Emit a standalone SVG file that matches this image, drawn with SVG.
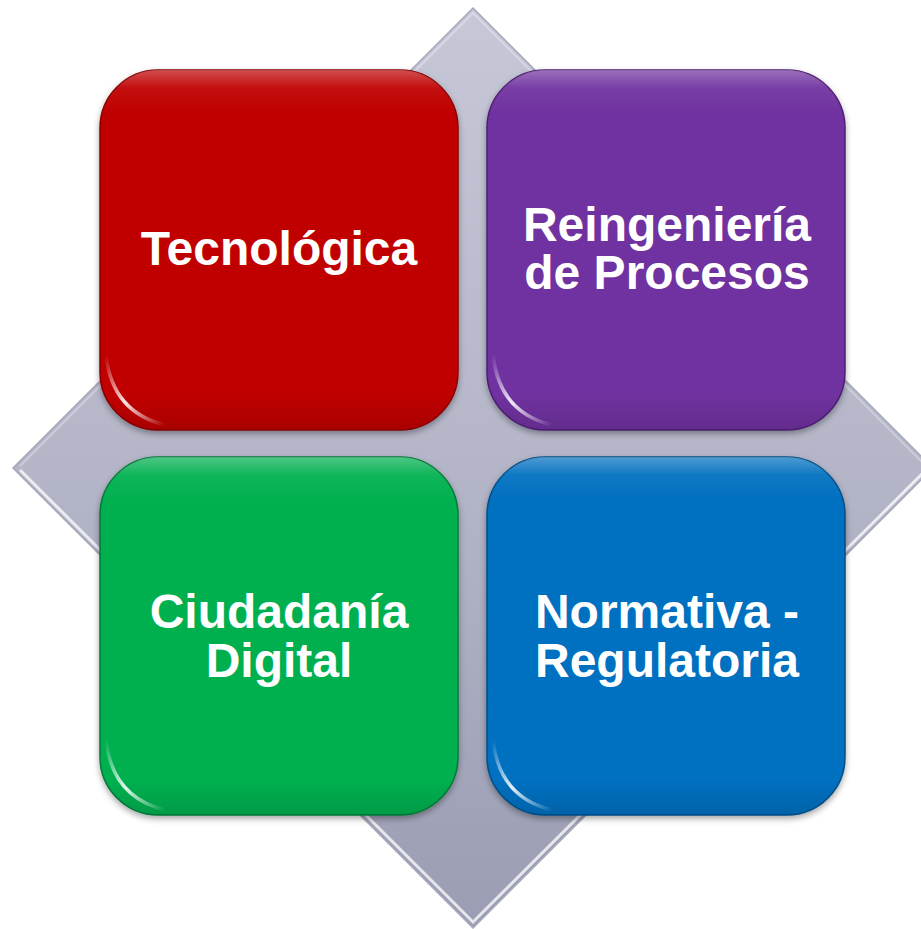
<svg xmlns="http://www.w3.org/2000/svg" width="921" height="929" viewBox="0 0 921 929">
  <defs>
    <linearGradient id="diamondFill" x1="0" y1="0" x2="0" y2="1">
      <stop offset="0" stop-color="#c6c8d8"/>
      <stop offset="0.5" stop-color="#b4b6c8"/>
      <stop offset="1" stop-color="#9a9db3"/>
    </linearGradient>
    <linearGradient id="shine" x1="0" y1="0" x2="0" y2="1">
      <stop offset="0" stop-color="#ffffff" stop-opacity="0.3"/>
      <stop offset="0.05" stop-color="#ffffff" stop-opacity="0.06"/>
      <stop offset="0.12" stop-color="#ffffff" stop-opacity="0"/>
      <stop offset="0.9" stop-color="#000000" stop-opacity="0"/>
      <stop offset="1" stop-color="#000000" stop-opacity="0.12"/>
    </linearGradient>
    <linearGradient id="glint" x1="0" y1="0" x2="1" y2="1">
      <stop offset="0" stop-color="#ffffff" stop-opacity="0"/>
      <stop offset="0.5" stop-color="#ffffff" stop-opacity="0.9"/>
      <stop offset="1" stop-color="#ffffff" stop-opacity="0"/>
    </linearGradient>
    <filter id="shadow" x="-10%" y="-10%" width="120%" height="125%">
      <feDropShadow dx="0" dy="3" stdDeviation="3" flood-color="#000000" flood-opacity="0.35"/>
    </filter>
  </defs>
  <style>
    .box { stroke-width: 1.5; }
    .label { font-family: "Liberation Sans", Arial, sans-serif; font-weight: bold; font-size: 48px; fill: #ffffff; text-anchor: middle; }
    .shine { fill: url(#shine); }
    .glint { fill: none; stroke: url(#glint); stroke-width: 3.5; stroke-linecap: round; }
  </style>

  <g id="diamond">
    <polygon points="473,8 933,468 473,928 13,468" fill="url(#diamondFill)" stroke="#a6a8ba" stroke-width="1.5"/>
    <polyline points="20,470 473,922 926,470" fill="none" stroke="#ffffff" stroke-opacity="0.75" stroke-width="3"/>
    <polyline points="20,466 473,13 926,466" fill="none" stroke="#ffffff" stroke-opacity="0.3" stroke-width="2"/>
  </g>

  <g id="node-tecnologica">
    <rect class="box" x="100" y="70" width="358" height="360" rx="58" fill="#c00000" stroke="#8a0000" filter="url(#shadow)"/>
    <rect class="shine" x="100" y="70" width="358" height="360" rx="58"/>
    <path class="glint" d="M106,355 Q112,412 165,425"/>
    <text class="label" x="279" y="265">Tecnológica</text>
  </g>

  <g id="node-reingenieria">
    <rect class="box" x="487" y="70" width="358" height="360" rx="58" fill="#7030a0" stroke="#4e1f72" filter="url(#shadow)"/>
    <rect class="shine" x="487" y="70" width="358" height="360" rx="58"/>
    <path class="glint" d="M493,355 Q499,412 552,425"/>
    <text class="label" x="667" y="241">Reingeniería</text>
    <text class="label" x="667" y="289">de Procesos</text>
  </g>

  <g id="node-ciudadania">
    <rect class="box" x="100" y="457" width="358" height="358" rx="58" fill="#00b050" stroke="#007a38" filter="url(#shadow)"/>
    <rect class="shine" x="100" y="457" width="358" height="358" rx="58"/>
    <path class="glint" d="M106,740 Q112,797 165,810"/>
    <text class="label" x="279" y="628">Ciudadanía</text>
    <text class="label" x="279" y="677">Digital</text>
  </g>

  <g id="node-normativa">
    <rect class="box" x="487" y="457" width="358" height="358" rx="58" fill="#0070c0" stroke="#004e88" filter="url(#shadow)"/>
    <rect class="shine" x="487" y="457" width="358" height="358" rx="58"/>
    <path class="glint" d="M493,740 Q499,797 552,810"/>
    <text class="label" x="667" y="628">Normativa -</text>
    <text class="label" x="667" y="677">Regulatoria</text>
  </g>

  <g id="connectors"></g>
</svg>
